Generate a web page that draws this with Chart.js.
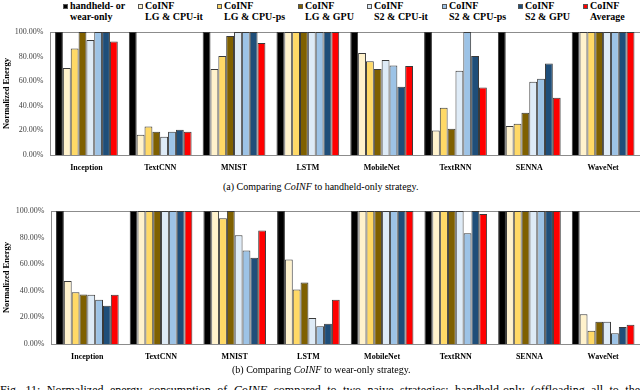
<!DOCTYPE html>
<html>
<head>
<meta charset="utf-8">
<script src="https://cdn.jsdelivr.net/npm/chart.js@4"></script>
<style>
  html,body{margin:0;padding:0;background:#fff;width:640px;height:390px;overflow:hidden;position:relative;font-family:"Liberation Serif","Times New Roman",serif;}
  .cv{position:absolute;left:0;}
  .leg{position:absolute;top:0;font-weight:bold;font-size:10px;line-height:11px;color:#000;white-space:nowrap;}
  .leg .sw{position:absolute;left:0;top:4px;width:5px;height:5px;border:1px solid #555;box-sizing:border-box;}
  .leg .tx{position:absolute;left:7px;top:0;}
  .cap{position:absolute;font-size:10px;color:#000;white-space:nowrap;}
  #fig{position:absolute;left:0;top:383px;width:640px;font-size:12px;line-height:14px;text-align:justify;text-align-last:justify;white-space:nowrap;}
</style>
</head>
<body>
<div id="legend"></div>
<canvas id="c1" class="cv" style="top:0px" width="640" height="176"></canvas>
<div class="cap" style="left:223px;top:181px;">(a) Comparing <i>CoINF</i> to handheld-only strategy.</div>
<canvas id="c2" class="cv" style="top:176px" width="640" height="190"></canvas>
<div class="cap" style="left:232px;top:364px;">(b) Comparing <i>CoINF</i> to wear-only strategy.</div>
<div id="fig">Fig. 11: Normalized energy consumption of <i>CoINF</i> compared to two naive strategies: handheld-only (offloading all to the</div>
<script>
const categories = ['Inception','TextCNN','MNIST','LSTM','MobileNet','TextRNN','SENNA','WaveNet'];
const seriesLine1 = ['handheld- or','CoINF','CoINF','CoINF','CoINF','CoINF','CoINF','CoINF'];
const seriesLine2 = ['wear-only','LG & CPU-it','LG & CPU-ps','LG & GPU','S2 & CPU-it','S2 & CPU-ps','S2 & GPU','Average'];
const seriesColors = ['#000000','#FFF2CC','#FFD966','#7F6000','#DEEBF7','#9DC3E6','#1F4E79','#FF0000'];
const yTicks = [0,20,40,60,80,100];
const yTitle = 'Normalized Energy';

// (a) compared to handheld-only
const handheldOnly = [100,100,100,100,100,100,100,100];
const aLgCpuIt  = [70.8,16.5,70.0,100,83.0,20.0,23.5,100];
const aLgCpuPs  = [86.5,23.2,80.5,100,76.2,38.4,25.4,100];
const aLgGpu    = [100,18.9,96.8,100,70.0,21.4,34.3,100];
const aS2CpuIt  = [93.5,14.9,100,100,77.3,68.4,59.5,100];
const aS2CpuPs  = [100,18.9,100,100,72.7,100,61.9,100];
const aS2Gpu    = [100,20.5,100,100,55.4,80.5,74.3,100];
const aAverage  = [92.2,18.9,91.0,100,72.4,54.9,46.5,100];

// (b) compared to wear-only
const wearOnly  = [100,100,100,100,100,100,100,100];
const bLgCpuIt  = [47.3,100,100,63.5,100,100,100,22.3];
const bLgCpuPs  = [39.0,100,94.5,41.0,100,100,100,10.0];
const bLgGpu    = [37.3,100,100,46.3,100,100,100,16.8];
const bS2CpuIt  = [37.0,100,81.8,19.5,100,100,100,16.8];
const bS2CpuPs  = [33.3,100,70.3,13.3,100,83.3,100,8.0];
const bS2Gpu    = [28.8,100,64.8,15.3,100,100,100,12.8];
const bAverage  = [37.0,100,85.3,33.3,100,97.8,100,14.5];

const seriesA = [handheldOnly,aLgCpuIt,aLgCpuPs,aLgGpu,aS2CpuIt,aS2CpuPs,aS2Gpu,aAverage];
const seriesB = [wearOnly,bLgCpuIt,bLgCpuPs,bLgGpu,bS2CpuIt,bS2CpuPs,bS2Gpu,bAverage];

// HTML legend
const legendX = [63,138,217,298,367,442,518,583];
const leg = document.getElementById('legend');
seriesLine1.forEach((l1,i)=>{
  const d = document.createElement('div');
  d.className='leg';
  d.style.left = legendX[i]+'px';
  d.innerHTML = '<span class="sw" style="background:'+seriesColors[i]+'"></span><span class="tx">'+l1+'<br>'+seriesLine2[i]+'</span>';
  leg.appendChild(d);
});

const SERIF = '"Liberation Serif","Times New Roman",serif';

const framePlugin = {
  id:'frame',
  beforeDatasetsDraw(chart){
    const a = chart.chartArea, ctx = chart.ctx;
    ctx.save();
    ctx.strokeStyle = '#8c8c8c';
    ctx.lineWidth = 1;
    ctx.strokeRect(Math.round(a.left)+0.5, Math.round(a.top)+0.5, Math.round(a.right-a.left)-1, Math.round(a.bottom-a.top));
    ctx.restore();
  }
};

function makeChart(id, series, padTop, xHeight, yWidth){
  return new Chart(document.getElementById(id), {
    type:'bar',
    data:{
      labels: categories,
      datasets: series.map((vals,i)=>({
        label: seriesLine1[i]+' '+seriesLine2[i],
        data: vals,
        backgroundColor: seriesColors[i],
        borderColor: '#3a3a3a',
        borderWidth: 1,
        categoryPercentage: 0.85,
        barPercentage: 1.0
      }))
    },
    options:{
      responsive:false,
      animation:false,
      layout:{padding:{top:padTop,left:0,right:0,bottom:0}},
      plugins:{legend:{display:false},tooltip:{enabled:false}},
      scales:{
        x:{
          grid:{display:false,drawTicks:false},
          border:{display:false},
          ticks:{color:'#000',font:{family:SERIF,size:8,weight:'bold'},padding:8,maxRotation:0},
          afterFit(s){ s.height = xHeight; }
        },
        y:{
          min:0,max:100,
          afterBuildTicks(s){ s.ticks = yTicks.map(v=>({value:v})); },
          grid:{display:false,drawTicks:false},
          border:{display:false},
          ticks:{color:'#444',font:{family:SERIF,size:8},padding:6,callback:v=>v.toFixed(2)+'%'},
          title:{display:true,text:yTitle,color:'#000',font:{family:SERIF,size:8.5,weight:'bold'},padding:{top:2,bottom:0}},
          afterFit(s){ s.width = yWidth; }
        }
      }
    },
    plugins:[framePlugin]
  });
}

makeChart('c1', seriesA, 32, 21, 49.5);
makeChart('c2', seriesB, 35, 22, 50.5);
</script>
</body>
</html>
